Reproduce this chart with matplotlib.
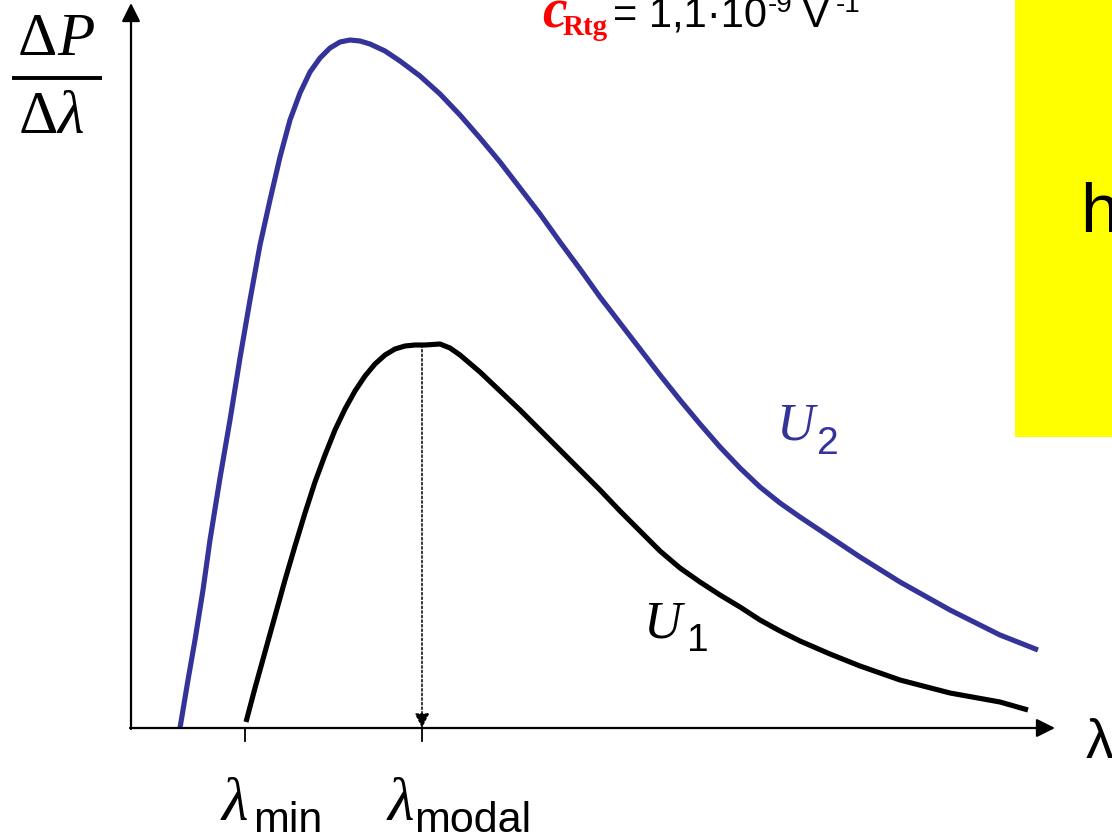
import matplotlib
matplotlib.use("Agg")
import matplotlib.pyplot as plt
from matplotlib.patches import Rectangle

# Curve data (screen-like units: x to the right, y downward from top)
u2_x = [180, 188, 195, 203, 210, 220, 230, 240, 250, 260, 270, 280, 290, 300, 310, 320, 330, 340, 350, 360,
        370, 385, 400, 420, 440, 460, 480, 500, 520, 540, 560, 580, 600, 620, 640, 660, 680, 700, 720,
        740, 760, 780, 800, 830, 860, 900, 950, 1000, 1038]
u2_y = [728, 680, 640, 590, 540, 478, 420, 358, 300, 245, 200, 157, 120, 93, 72, 58, 48, 42, 40, 41,
        44, 51, 61, 76, 94, 115, 138, 162, 188, 214, 242, 269, 297, 323, 349, 375, 400, 424, 447,
        468, 487, 503, 517, 537, 557, 582, 610, 635, 650]
u1_x = [246, 255, 265, 275, 285, 295, 305, 315, 325, 335, 345, 355, 365, 375, 385, 395, 405, 415, 425, 440,
        450, 460, 480, 500, 520, 540, 560, 580, 600, 620, 640, 660, 680, 700, 720, 740, 760, 780, 800,
        830, 860, 900, 950, 1000, 1028]
u1_y = [722, 688, 652, 616, 580, 546, 513, 482, 455, 430, 409, 391, 376, 364, 355, 349, 346, 345, 345, 344,
        348, 355, 372, 391, 410, 430, 450, 470, 490, 511, 531, 551, 568, 582, 595, 607, 620, 631, 641,
        654, 666, 680, 693, 702, 710]
tick_x = [245, 422]
tick_labels = ["min", "modal"]
modal_top = 345

fig = plt.figure(figsize=(11.12, 8.4), dpi=100)
ax = fig.add_axes([0, 0, 1, 1])
ax.set_xlim(0, 1112)
ax.set_ylim(840, 0)
ax.axis("off")

blue = "#333399"

# yellow box
ax.add_patch(Rectangle((1015, 0), 120, 437, facecolor="#ffff00", edgecolor="none", zorder=0))
ax.text(1080, 232, "h", fontsize=50, family="Liberation Sans", ha="left", va="baseline")

# axes arrows
ax.annotate("", xy=(131, 3), xytext=(131, 729),
            arrowprops=dict(arrowstyle="-|>", lw=1.6, color="black", mutation_scale=28, shrinkA=0, shrinkB=0))
ax.annotate("", xy=(1055, 728), xytext=(130, 728),
            arrowprops=dict(arrowstyle="-|>", lw=1.6, color="black", mutation_scale=28, shrinkA=0, shrinkB=0))

# ticks
for tx in tick_x:
    ax.plot([tx, tx], [728, 741], color="black", lw=1.3)

# dotted modal line
ax.annotate("", xy=(422, 728), xytext=(422, modal_top),
            arrowprops=dict(arrowstyle="-|>", lw=1.1, ls=(0, (1.5, 1.5)), color="black",
                            mutation_scale=22, shrinkA=0, shrinkB=0))

# curves
ax.plot(u2_x, u2_y, color=blue, lw=3.7, solid_capstyle="butt", solid_joinstyle="round")
ax.plot(u1_x, u1_y, color="black", lw=3.7, solid_capstyle="butt", solid_joinstyle="round")

# y label fraction
ax.text(57, 55, "\u0394", fontsize=44, family="Liberation Serif", ha="right", va="baseline")
ax.text(57, 55, "P", fontsize=44, family="Liberation Serif", style="italic", ha="left", va="baseline")
ax.plot([12, 102], [78, 78], color="black", lw=2.8, solid_capstyle="butt")
ax.text(58, 133, "\u0394", fontsize=44, family="Liberation Serif", ha="right", va="baseline")
ax.text(58, 133, "\u03bb", fontsize=44, family="Liberation Serif", style="italic", ha="left", va="baseline")

# curve labels
ax.text(776, 440, "U", fontsize=38, family="Liberation Serif", style="italic", color=blue, va="baseline")
ax.text(817, 454, "2", fontsize=28, family="Liberation Sans", color=blue, va="baseline")
ax.text(643, 638, "U", fontsize=38, family="Liberation Serif", style="italic", color="black", va="baseline")
ax.text(687, 651, "1", fontsize=28, family="Liberation Sans", color="black", va="baseline")

# x tick labels
ax.text(221, 820, "\u03bb", fontsize=44, family="Liberation Serif", style="italic", va="baseline")
ax.text(253, 832, tick_labels[0], fontsize=31, family="Liberation Sans", va="baseline")
ax.text(388, 820, "\u03bb", fontsize=44, family="Liberation Serif", style="italic", va="baseline")
ax.text(414, 832, tick_labels[1], fontsize=31, family="Liberation Sans", va="baseline")

# x axis label
ax.text(1086, 758, "\u03bb", fontsize=40, family="Liberation Sans", va="baseline")

# top formula
ax.text(542, 27, "c", fontsize=40, family="Liberation Serif", style="italic", weight="bold",
        color="red", va="baseline")
ax.text(563, 35, "Rtg", fontsize=21, family="Liberation Serif", weight="bold", color="red", va="baseline")
ax.text(613, 27, "= 1,1\u00b710", fontsize=30, family="Liberation Sans", va="baseline")
ax.text(768, 12, "-9", fontsize=20, family="Liberation Sans", va="baseline")
ax.text(802, 27, "V", fontsize=30, family="Liberation Sans", va="baseline")
ax.text(836, 12, "-1", fontsize=20, family="Liberation Sans", va="baseline")

fig.savefig("out.png", dpi=100)
